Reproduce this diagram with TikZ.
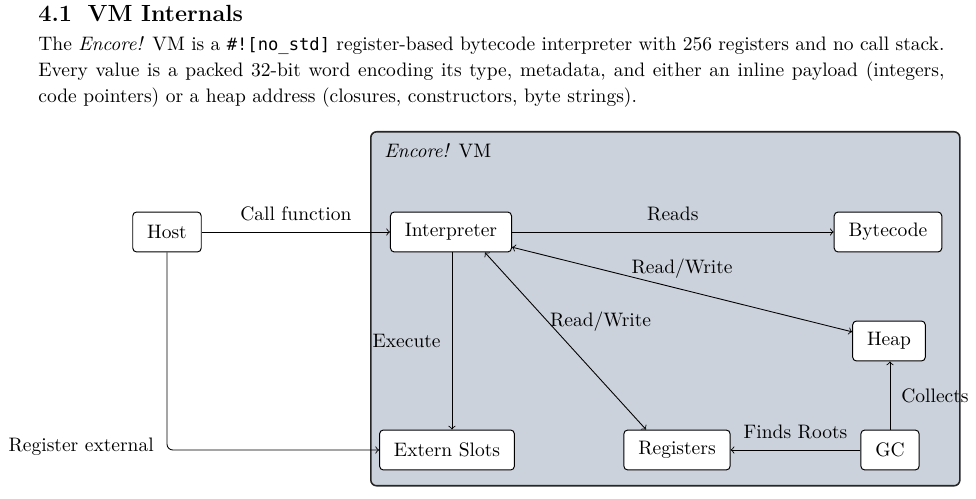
\documentclass[tikz,border=0pt]{standalone}
\usepackage{fontspec}
\setmonofont[Scale=0.88]{DejaVu Sans Mono}
\definecolor{vmbg}{RGB}{203,210,219}
\begin{document}
\begin{tikzpicture}[x=0.513pt,y=-0.513pt,
  box/.style={draw, fill=white, rounded corners=2pt, minimum height=20.5pt, inner xsep=7.4pt, inner ysep=0pt, line width=0.5pt},
  conn/.style={->, line width=0.45pt},
  lbl/.style={inner sep=5.6pt}]
\useasboundingbox (0,0) rectangle (976,499);
\node[anchor=base west, inner sep=0, font=\large\bfseries] (title) at (38,22) {4.1\hspace{8pt}VM Internals};
\node[anchor=north west, inner sep=0, text width=464.8pt, align=justify, font=\fontsize{10}{13.3}\selectfont] (body) at (38,31.8)
 {\strut The \emph{Encore!} VM is a \texttt{\#![no\_std]} register-based bytecode interpreter with 256 registers and no call stack.\linebreak Every value is a packed 32-bit word encoding its type, metadata, and either an inline payload (integers,\linebreak code pointers) or a heap address (closures, constructors, byte strings).};
\node (vm) [draw=black!85, line width=0.8pt, fill=vmbg, rounded corners=3pt, minimum width=302.2pt, minimum height=181.6pt, anchor=north west, inner sep=0] at (370,131) {};
\node[anchor=west, inner sep=0] (vmlabel) at (384,151) {\emph{Encore!} VM};
\node[box] (host) at (167,232) {Host};
\node[box] (interp) at (451,232) {Interpreter};
\node[box] (bytecode) at (888,232) {Bytecode};
\node[box] (heap) at (889,341) {Heap};
\node[box] (extern) at (447,450) {Extern Slots};
\node[box] (regs) at (677,450) {Registers};
\node[box] (gc) at (890,450) {GC};
\draw[conn] (host) -- node[above, lbl] {Call function} (interp);
\draw[conn] (interp) -- node[above, lbl] {Reads} (bytecode);
\draw[conn, <->] (interp) -- node[above, lbl, pos=0.5] {Read/Write} (heap);
\draw[conn, <->] ([xshift=17.4pt]interp.south) -- node[inner sep=3.3pt, xshift=18pt, yshift=9.7pt] {Read/Write} ([xshift=-15.9pt]regs.north);
\draw[conn] ([xshift=0.5pt]interp.south) -- node[left, lbl] {Execute} ([xshift=0.5pt]interp.south |- extern.north);
\draw[conn, rounded corners=3pt] (host.south) |- node[pos=0.5, left, lbl, xshift=-1pt, yshift=1.5pt] {Register external} (extern.west);
\draw[conn] (gc.north) -- node[right, lbl] {Collects} (gc.north |- heap.south);
\draw[conn] (gc) -- node[above, lbl] {Finds Roots} (regs);
\end{tikzpicture}
\end{document}
